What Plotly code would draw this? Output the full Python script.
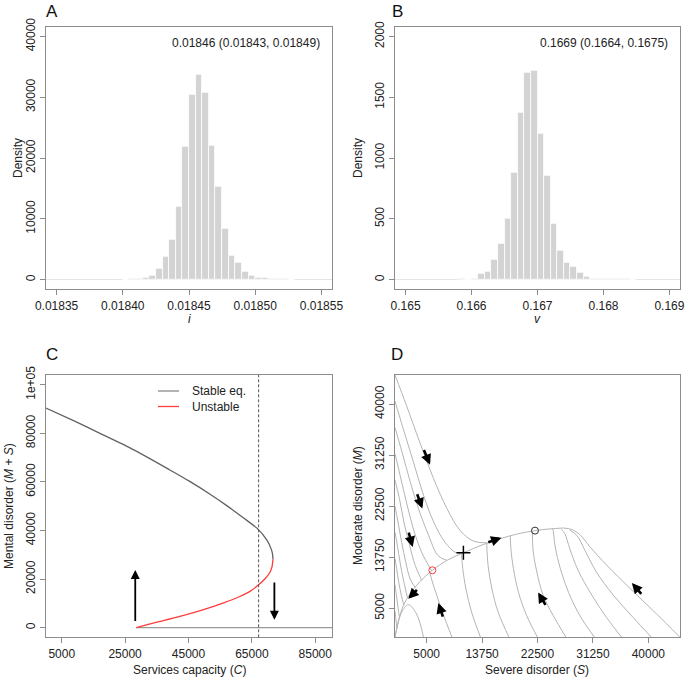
"""bayesian posteriors and fold bifurcation / phase portrait"""

import plotly.graph_objects as go
from plotly.subplots import make_subplots

# ---- data ----
# A : posterior of i (bin width 0.000005)
i_bin_left = [0.018400, 0.018405, 0.018410, 0.018415, 0.018420, 0.018425, 0.018430,
              0.018435, 0.018440, 0.018445, 0.018450, 0.018455, 0.018460, 0.018465,
              0.018470, 0.018475, 0.018480, 0.018485, 0.018490, 0.018495, 0.018500,
              0.018505, 0.018510, 0.018515, 0.018520, 0.018525]
i_density = [50, 110, 220, 380, 650, 1800, 3700, 6500, 11950, 21900, 30400, 33700,
             30700, 22100, 15200, 8400, 4000, 2800, 1370, 660, 380, 380, 220, 150, 100, 50]
i_width = 0.000005
i_ticks = [0.01835, 0.01840, 0.01845, 0.01850, 0.01855]
i_ticktext = ["0.01835", "0.01840", "0.01845", "0.01850", "0.01855"]
i_summary = "0.01846 (0.01843, 0.01849)"
i_yticks = [0, 10000, 20000, 30000, 40000]

# B : posterior of v (bin width 0.0001)
v_bin_left = [0.1658, 0.1659, 0.1660, 0.1661, 0.1662, 0.1663, 0.1664, 0.1665, 0.1666,
              0.1667, 0.1668, 0.1669, 0.1670, 0.1671, 0.1672, 0.1673, 0.1674, 0.1675,
              0.1676, 0.1677, 0.1678, 0.1679, 0.1680, 0.1681, 0.1682, 0.1683, 0.1684]
v_density = [8, 3, 8, 47, 66, 162, 299, 499, 877, 1370, 1700, 1720, 1200, 855, 460,
             238, 142, 104, 60, 27, 11, 5, 5, 5, 5, 8, 3]
v_width = 0.0001
v_ticks = [0.165, 0.166, 0.167, 0.168, 0.169]
v_ticktext = ["0.165", "0.166", "0.167", "0.168", "0.169"]
v_summary = "0.1669 (0.1664, 0.1675)"
v_yticks = [0, 500, 1000, 1500, 2000]

# C : equilibria of M + S against services capacity C
stable_C = [0, 9070, 17050, 25000, 32250, 39000, 45000, 51700, 57300, 62500, 66600,
            69750, 71190, 71545, 71650]
stable_MS = [90400, 85000, 80000, 75000, 70000, 65000, 60500, 55000, 50000, 45000, 40950,
             36000, 32000, 30000, 28150]
unstable_C = [71650, 71350, 70700, 69300, 67130, 64500, 61000, 56100, 49000, 42000, 35000, 28500]
unstable_MS = [28150, 25000, 22800, 20300, 17600, 15000, 12700, 10200, 7100, 4500, 2200, 0]
zero_C = [28500, 90280]
zero_MS = [0, 0]
current_C = 67130
arrow_up_C, arrow_up_MS = 28200, [2100, 23700]
arrow_down_C, arrow_down_MS = 72100, [19200, 3200]
C_ticks = [5000, 25000, 45000, 65000, 85000]
MS_ticks = [0, 20000, 40000, 60000, 80000, 100000]
MS_ticktext = ["0", "20000", "40000", "60000", "80000", "1e+05"]

# D : trajectories in the (S, M) plane
manifold_S = [0, 500, 1300, 2400, 3900, 5900, 8200, 10800, 13900, 16600, 19200, 22100, 24500, 26600]
manifold_M = [0, 2600, 5400, 7500, 9500, 11500, 13200, 14500, 15900, 16900, 17700, 18300, 18600, 18750]
bottom_S = [
    [45000, 41300, 37100, 33400, 30800, 29200, 27900, 26600],
    [40500, 37600, 34500, 31800, 30000, 28700, 27600],
    [35800, 33400, 31100, 28900, 27600, 26800, 26300],
    [31500, 29200, 27400, 26100, 25300, 25000, 24900],
    [27000, 25000, 23400, 22400, 21800, 21700],
    [22500, 20800, 19500, 18700, 18300, 18200],
    [18000, 16300, 15300, 14700, 14500, 14500],
    [13500, 12100, 11200, 10700, 10500],
    [9000, 7600, 6600, 5900, 5500],
    [4500, 3400, 2100, 1050, 260, 0],
]
bottom_M = [
    [0, 4000, 8400, 12400, 15500, 17600, 18500, 18750],
    [0, 3400, 7200, 11200, 14900, 17500, 18400],
    [0, 3400, 7200, 11500, 15200, 17800, 18500],
    [0, 3700, 7700, 11800, 15500, 18100, 18600],
    [0, 3700, 7200, 11200, 14900, 18100],
    [0, 3700, 7700, 11800, 15200, 17400],
    [0, 4300, 8300, 12300, 15800, 16200],
    [0, 4300, 8300, 11800, 14200],
    [0, 4000, 7200, 9500, 11100],
    [0, 4000, 5600, 4300, 1400, 0],
]
left_S = [
    [0, 1800, 3900, 6100, 8200, 10300, 12400, 14500],
    [0, 1300, 2900, 4500, 6100, 7900, 9700, 11000],
    [0, 1100, 2400, 3700, 5300, 6800, 8200],
    [0, 800, 1800, 2900, 4200, 5800],
    [0, 700, 1400, 2300, 3200, 4200],
    [0, 470, 1050, 1700, 2400, 3200],
    [0, 370, 790, 1300, 2000],
    [0, 260, 580, 1000, 1400],
    [0, 160, 370, 700],
    [0, 150, 300],
]
left_M = [
    [45000, 39800, 33500, 27200, 22100, 18300, 16500, 16200],
    [40500, 35800, 30100, 24400, 19800, 16300, 14500, 14600],
    [36000, 31800, 26700, 22100, 17500, 14000, 13200],
    [31500, 27800, 23200, 18600, 14600, 11400],
    [27000, 23800, 19800, 15800, 12300, 9800],
    [22500, 19800, 16300, 12900, 10000, 8500],
    [18000, 15800, 12900, 10000, 6700],
    [13500, 11800, 9500, 7200, 5500],
    [9000, 7700, 6000, 3400],
    [4500, 3000, 1500],
]
unstable_eq = (5900, 11500)
stable_eq = (22100, 18300)
current_state = (10800, 14500)
# arrows : (tail S, tail M, head S, head M)
D_arrows = [
    (4470, 32400, 5530, 29600),
    (3420, 24800, 4320, 22100),
    (2100, 18200, 2790, 15500),
    (3680, 8400, 2100, 6600),
    (14500, 16200, 16800, 17100),
    (23900, 5300, 22600, 7700),
    (7630, 3300, 6840, 5900),
    (39100, 7200, 37400, 9300),
]
D_ticks = [5000, 13750, 22500, 31250, 40000]
D_ticktext = ["5000", "13750", "22500", "31250", "40000"]

# ---- figure ----
W, H = 685, 679
FONT = "Liberation Sans, Arial, sans-serif"
AXC = "#8c8c8c"


def px(x):
    return x / W


def py(y):
    return 1 - y / H


fig = make_subplots(rows=2, cols=2)

fig.add_trace(go.Bar(x=[b + i_width / 2 for b in i_bin_left], y=i_density, width=i_width,
                     marker=dict(color="#d3d3d3", line=dict(color="white", width=0.8))),
              row=1, col=1)
fig.add_trace(go.Bar(x=[b + v_width / 2 for b in v_bin_left], y=v_density, width=v_width,
                     marker=dict(color="#d3d3d3", line=dict(color="white", width=0.8))),
              row=1, col=2)

fig.add_trace(go.Scatter(x=zero_C, y=zero_MS, mode="lines",
                         line=dict(color="#9a9a9a", width=1.2)), row=2, col=1)
fig.add_trace(go.Scatter(x=stable_C, y=stable_MS, mode="lines", line_shape="spline",
                         line=dict(color="#626262", width=1.3, smoothing=0.6)), row=2, col=1)
fig.add_trace(go.Scatter(x=unstable_C, y=unstable_MS, mode="lines", line_shape="spline",
                         line=dict(color="#ff3b3b", width=1.3, smoothing=0.6)), row=2, col=1)

for s, m in zip(bottom_S + left_S, bottom_M + left_M):
    fig.add_trace(go.Scatter(x=s, y=m, mode="lines", line_shape="spline",
                             line=dict(color="#b4b4b4", width=1)), row=2, col=2)
fig.add_trace(go.Scatter(x=manifold_S, y=manifold_M, mode="lines", line_shape="spline",
                         line=dict(color="#b4b4b4", width=1)), row=2, col=2)
fig.add_trace(go.Scatter(x=[unstable_eq[0]], y=[unstable_eq[1]], mode="markers",
                         marker=dict(symbol="circle-open", color="#ff4040", size=7,
                                     line=dict(width=1))), row=2, col=2)
fig.add_trace(go.Scatter(x=[stable_eq[0]], y=[stable_eq[1]], mode="markers",
                         marker=dict(symbol="circle-open", color="#333333", size=7,
                                     line=dict(width=1))), row=2, col=2)
fig.add_trace(go.Scatter(x=[current_state[0]], y=[current_state[1]], mode="markers",
                         marker=dict(symbol="cross-thin", color="black", size=10,
                                     line=dict(width=1.5, color="black"))), row=2, col=2)

axis_common = dict(showline=True, mirror=True, linecolor=AXC, linewidth=1,
                   ticks="outside", ticklen=5, tickcolor=AXC, tickwidth=1,
                   showgrid=False, zeroline=False, automargin=False,
                   tickfont=dict(family=FONT, size=12, color="#222222"))

fig.update_layout(
    template="none",
    width=W, height=H, margin=dict(l=0, r=0, t=0, b=0),
    plot_bgcolor="white", paper_bgcolor="white", showlegend=False, bargap=0,
    font=dict(family=FONT, size=12, color="#222222"),
    xaxis=dict(domain=[px(46), px(332)], range=[0.018342, 0.018558],
               tickvals=i_ticks, ticktext=i_ticktext, **axis_common),
    yaxis=dict(domain=[py(289.3), py(26.7)], range=[-1600, 41600],
               tickvals=i_yticks, ticktext=[str(t) for t in i_yticks], tickangle=-90,
               **axis_common),
    xaxis2=dict(domain=[px(395), px(680)], range=[0.16484, 0.16916],
                tickvals=v_ticks, ticktext=v_ticktext, **axis_common),
    yaxis2=dict(domain=[py(289.3), py(26.7)], range=[-80, 2080],
                tickvals=v_yticks, ticktext=[str(t) for t in v_yticks], tickangle=-90,
                **axis_common),
    xaxis3=dict(domain=[px(46), px(332)], range=[40, 90280],
                tickvals=C_ticks, ticktext=[str(t) for t in C_ticks], **axis_common),
    yaxis3=dict(domain=[py(637.3), py(375)], range=[-4000, 104000],
                tickvals=MS_ticks, ticktext=MS_ticktext, tickangle=-90, **axis_common),
    xaxis4=dict(domain=[px(395), px(680)], range=[0, 45000],
                tickvals=D_ticks, ticktext=D_ticktext, **axis_common),
    yaxis4=dict(domain=[py(637.3), py(375)], range=[0, 45000],
                tickvals=D_ticks, ticktext=D_ticktext, tickangle=-90, **axis_common),
)

# faint zero lines in histograms
for xr, yr in (("x domain", "y"), ("x2 domain", "y2")):
    fig.add_shape(type="line", xref=xr, yref=yr, x0=0, x1=1, y0=0, y1=0,
                  line=dict(color="#e4e4e4", width=1), layer="below")

# current services capacity
fig.add_shape(type="line", xref="x3", yref="y3 domain", x0=current_C, x1=current_C,
              y0=0, y1=1, line=dict(color="#555555", width=1, dash="3px,2px"))

# legend of panel C
for yy, col, txt in ((391, "#8a8a8a", "Stable eq."), (406.5, "#ff3b3b", "Unstable")):
    fig.add_shape(type="line", xref="paper", yref="paper", x0=px(158), x1=px(179),
                  y0=py(yy), y1=py(yy), line=dict(color=col, width=1.3))
    fig.add_annotation(x=px(190), y=py(yy), xref="paper", yref="paper", text=txt,
                       showarrow=False, xanchor="left", yanchor="middle",
                       font=dict(size=12, family=FONT, color="#222222"))

# arrows panel C
fig.add_annotation(x=arrow_up_C, y=arrow_up_MS[1], ax=arrow_up_C, ay=arrow_up_MS[0],
                   xref="x3", yref="y3", axref="x3", ayref="y3", text="",
                   showarrow=True, arrowhead=2, arrowsize=1, arrowwidth=1.8, arrowcolor="black")
fig.add_annotation(x=arrow_down_C, y=arrow_down_MS[1], ax=arrow_down_C, ay=arrow_down_MS[0],
                   xref="x3", yref="y3", axref="x3", ayref="y3", text="",
                   showarrow=True, arrowhead=2, arrowsize=1, arrowwidth=1.8, arrowcolor="black")

# arrows panel D
for ts, tm, hs, hm in D_arrows:
    fig.add_annotation(x=hs, y=hm, ax=ts, ay=tm, xref="x4", yref="y4", axref="x4", ayref="y4",
                       text="", showarrow=True, arrowhead=2, arrowsize=0.8, arrowwidth=2.6,
                       arrowcolor="black")

# text: summaries, panel letters, axis titles
fig.add_annotation(x=px(322), y=py(43), xref="paper", yref="paper", text=i_summary,
                   showarrow=False, xanchor="right", yanchor="middle", font=dict(size=12))
fig.add_annotation(x=px(670), y=py(43), xref="paper", yref="paper", text=v_summary,
                   showarrow=False, xanchor="right", yanchor="middle", font=dict(size=12))

for letter, x, y in (("A", 52, 11), ("B", 397, 11), ("C", 52, 354), ("D", 397, 354)):
    fig.add_annotation(x=px(x), y=py(y), xref="paper", yref="paper", text=letter,
                       showarrow=False, xanchor="center", yanchor="middle",
                       font=dict(size=17, color="#111111"))

titles = [
    ("Density", 18, 158, -90),
    ("Density", 358, 158, -90),
    ("<i>i</i>", 189, 319, 0),
    ("<i>v</i>", 537, 319, 0),
    ("Mental disorder (<i>M</i> + <i>S</i>)", 9, 506, -90),
    ("Services capacity (<i>C</i>)", 189, 670, 0),
    ("Moderate disorder (<i>M</i>)", 358, 506, -90),
    ("Severe disorder (<i>S</i>)", 537, 670, 0),
]
for txt, x, y, ang in titles:
    fig.add_annotation(x=px(x), y=py(y), xref="paper", yref="paper", text=txt,
                       showarrow=False, textangle=ang, xanchor="center", yanchor="middle",
                       font=dict(size=12, color="#222222"))

# the page body has a default 8px margin; drop it so the figure fills the window
fig.write_html("out.html", config={"displayModeBar": False},
               post_script="document.body.style.margin = '0px';")
